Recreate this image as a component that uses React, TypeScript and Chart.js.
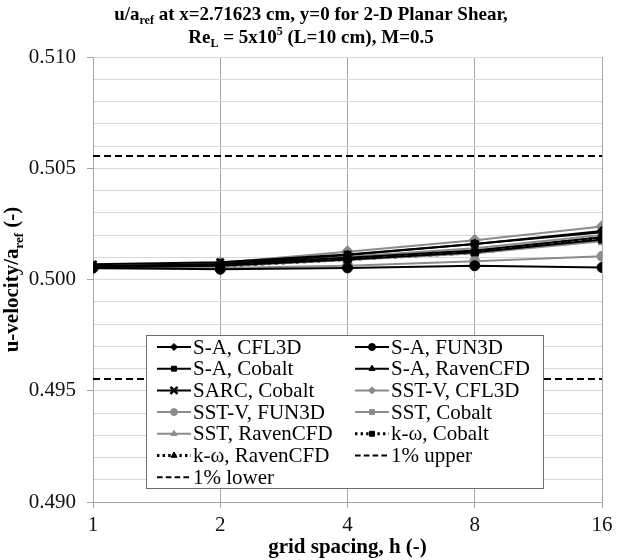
import React, { useEffect, useRef } from 'react';
import { Chart, registerables } from 'chart.js';
import { drawPoint } from 'chart.js/helpers';

Chart.register(...registerables);

// ---------- data ----------
const gridSpacing = [1, 2, 4, 8, 16];
const xTickLabels = ['1', '2', '4', '8', '16'];

const saCfl3d = [0.50058, 0.50068, 0.5011, 0.5016, 0.50218];
const saFun3d = [0.50052, 0.50046, 0.50052, 0.50062, 0.50054];
const saCobalt = [0.50055, 0.50062, 0.5009, 0.50122, 0.5018];
const saRaven = [0.5006, 0.50068, 0.50098, 0.5013, 0.5019];
const sarcCobalt = [0.50068, 0.50078, 0.50112, 0.5016, 0.50212];
const sstvCfl3d = [0.5006, 0.50075, 0.50125, 0.50176, 0.50238];
const sstvFun3d = [0.5005, 0.50052, 0.50062, 0.50082, 0.50104];
const sstCobalt = [0.50055, 0.5006, 0.50088, 0.50118, 0.50172];
const sstRaven = [0.5006, 0.5007, 0.50102, 0.5014, 0.502];
const kwCobalt = [0.50055, 0.5006, 0.5009, 0.5012, 0.50182];
const kwRaven = [0.50055, 0.50062, 0.50092, 0.50125, 0.50188];
const upperBound = 0.50555;
const lowerBound = 0.49553;

const yMin = 0.49;
const yMax = 0.51;
const yStep = 0.001;

const BLACK = '#000000';
const GRAY = '#8c8c8c';
const SERIF = '"Liberation Serif", "Times New Roman", serif';

type Seg = { t: string; sub?: boolean; sup?: boolean };

function series(label: string, values: number[], color: string, pointStyle: any, radius: number, dash: number[] = [], width = 2) {
  return {
    label,
    data: gridSpacing.map((x, i) => ({ x, y: values[i] })),
    borderColor: color,
    backgroundColor: color,
    pointBackgroundColor: color,
    pointBorderColor: color,
    pointStyle,
    pointRadius: radius,
    pointBorderWidth: pointStyle === 'crossRot' ? 2.5 : 1,
    borderWidth: width,
    borderDash: dash,
    fill: false,
    tension: 0,
  };
}

function drawRich(ctx: CanvasRenderingContext2D, segs: Seg[], size: number, cx: number, cy: number) {
  const base = `bold ${size}px ${SERIF}`;
  const small = `bold ${Math.round(size * 0.62)}px ${SERIF}`;
  let total = 0;
  const widths = segs.map((s) => {
    ctx.font = s.sub || s.sup ? small : base;
    const w = ctx.measureText(s.t).width;
    total += w;
    return w;
  });
  let x = cx - total / 2;
  ctx.textBaseline = 'middle';
  ctx.textAlign = 'left';
  segs.forEach((s, i) => {
    ctx.font = s.sub || s.sup ? small : base;
    const dy = s.sub ? size * 0.32 : s.sup ? -size * 0.3 : 0;
    ctx.fillText(s.t, x, cy + dy);
    x += widths[i];
  });
}

const titleLine1: Seg[] = [
  { t: 'u/a' },
  { t: 'ref', sub: true },
  { t: ' at x=2.71623 cm, y=0 for 2-D Planar Shear,' },
];
const titleLine2: Seg[] = [
  { t: 'Re' },
  { t: 'L', sub: true },
  { t: ' = 5x10' },
  { t: '5', sup: true },
  { t: ' (L=10 cm), M=0.5' },
];
const yTitle: Seg[] = [{ t: 'u-velocity/a' }, { t: 'ref', sub: true }, { t: ' (-)' }];

const textPlugin = {
  id: 'richText',
  afterDraw(chart: any) {
    const ctx = chart.ctx as CanvasRenderingContext2D;
    ctx.save();
    ctx.fillStyle = '#000';
    drawRich(ctx, titleLine1, 19, 311, 15);
    drawRich(ctx, titleLine2, 19, 311, 38);
    const ca = chart.chartArea;
    ctx.translate(13, (ca.top + ca.bottom) / 2);
    ctx.rotate(-Math.PI / 2);
    drawRich(ctx, yTitle, 21, 0, 0);
    ctx.restore();
  },
};

const legendPlugin = {
  id: 'boxLegend',
  afterDraw(chart: any) {
    const ctx = chart.ctx as CanvasRenderingContext2D;
    const left = 146, top = 335, w = 397, h = 153;
    const rowH = 21.7, colW = 198;
    ctx.save();
    ctx.fillStyle = '#ffffff';
    ctx.fillRect(left, top, w, h);
    ctx.strokeStyle = '#6e6e6e';
    ctx.lineWidth = 1;
    ctx.strokeRect(left + 0.5, top + 0.5, w, h);
    chart.data.datasets.forEach((ds: any, i: number) => {
      const col = i % 2;
      const row = Math.floor(i / 2);
      const x0 = left + 11 + col * colW;
      const y = top + 12 + row * rowH;
      ctx.save();
      ctx.strokeStyle = ds.borderColor;
      ctx.lineWidth = ds.borderWidth;
      ctx.setLineDash(ds.borderDash && ds.borderDash.length ? ds.borderDash.map((d: number) => d * 0.8) : []);
      ctx.beginPath();
      ctx.moveTo(x0, y);
      ctx.lineTo(x0 + 34, y);
      ctx.stroke();
      ctx.setLineDash([]);
      if (ds.pointRadius > 0) {
        ctx.fillStyle = ds.pointBackgroundColor;
        ctx.strokeStyle = ds.pointBorderColor;
        ctx.lineWidth = ds.pointStyle === 'crossRot' ? 2.5 : 1;
        drawPoint(ctx, { pointStyle: ds.pointStyle, radius: ds.pointStyle === 'crossRot' ? 5 : 3.5, rotation: 0, borderWidth: ctx.lineWidth } as any, x0 + 17, y);
      }
      ctx.restore();
      ctx.fillStyle = '#000';
      ctx.font = `21px ${SERIF}`;
      ctx.textBaseline = 'middle';
      ctx.textAlign = 'left';
      ctx.fillText(ds.label, x0 + 36, y + 1);
    });
    ctx.restore();
  },
};

export default function App() {
  const ref = useRef<HTMLCanvasElement | null>(null);
  useEffect(() => {
    if (!ref.current) return;
    const datasets: any[] = [
      series('S-A, CFL3D', saCfl3d, BLACK, 'rectRot', 5),
      series('S-A, FUN3D', saFun3d, BLACK, 'circle', 5),
      series('S-A, Cobalt', saCobalt, BLACK, 'rect', 5),
      series('S-A, RavenCFD', saRaven, BLACK, 'triangle', 5),
      series('SARC, Cobalt', sarcCobalt, BLACK, 'crossRot', 5),
      series('SST-V, CFL3D', sstvCfl3d, GRAY, 'rectRot', 6),
      series('SST-V, FUN3D', sstvFun3d, GRAY, 'circle', 5),
      series('SST, Cobalt', sstCobalt, GRAY, 'rect', 5),
      series('SST, RavenCFD', sstRaven, GRAY, 'triangle', 5),
      series('k-\u03c9, Cobalt', kwCobalt, BLACK, 'rect', 5, [3, 4], 3),
      series('k-\u03c9, RavenCFD', kwRaven, BLACK, 'triangle', 5, [3, 4], 3),
      {
        label: '1% upper',
        data: gridSpacing.map((x) => ({ x, y: upperBound })),
        borderColor: BLACK,
        borderWidth: 2,
        borderDash: [7, 4],
        pointRadius: 0,
        fill: false,
      },
      {
        label: '1% lower',
        data: gridSpacing.map((x) => ({ x, y: lowerBound })),
        borderColor: BLACK,
        borderWidth: 2,
        borderDash: [7, 4],
        pointRadius: 0,
        fill: false,
      },
    ];
    const chart = new Chart(ref.current, {
      type: 'line',
      data: { datasets },
      plugins: [textPlugin, legendPlugin],
      options: {
        animation: false,
        responsive: false,
        devicePixelRatio: 1,
        layout: { padding: { top: 57, right: 17, left: 0, bottom: 0 } },
        plugins: {
          legend: { display: false },
          title: { display: false },
          tooltip: { enabled: false },
        },
        scales: {
          x: {
            type: 'logarithmic',
            min: 1,
            max: 16,
            afterBuildTicks: (scale: any) => {
              scale.ticks = gridSpacing.map((v) => ({ value: v }));
            },
            afterFit: (scale: any) => {
              scale.height = 58;
            },
            ticks: {
              autoSkip: false,
              maxRotation: 0,
              padding: 5,
              color: '#111',
              font: { family: SERIF, size: 21 },
              callback: (v: any) => {
                const i = gridSpacing.indexOf(Number(v));
                return i >= 0 ? xTickLabels[i] : '';
              },
            },
            grid: { color: '#a6a6a6', tickColor: '#a6a6a6', tickLength: 6, lineWidth: 1 },
            border: { color: '#a6a6a6' },
            title: {
              display: true,
              text: 'grid spacing, h (-)',
              color: '#000',
              font: { family: SERIF, size: 21, weight: 'bold' },
              padding: { top: 0, bottom: 0 },
            },
          },
          y: {
            type: 'linear',
            min: yMin,
            max: yMax,
            afterFit: (scale: any) => {
              scale.width = 93;
            },
            ticks: {
              stepSize: yStep,
              maxTicksLimit: 100,
              autoSkip: false,
              padding: 11,
              color: '#111',
              font: { family: SERIF, size: 21 },
              callback: (v: any) => (Math.round(Number(v) * 1000) % 5 === 0 ? Number(v).toFixed(3) : ''),
            },
            grid: {
              color: '#d9d9d9',
              tickLength: 6,
              tickColor: (c: any) =>
                c.tick && Math.round(c.tick.value * 1000) % 5 === 0 ? '#a6a6a6' : 'rgba(0,0,0,0)',
            },
            border: { color: '#a6a6a6' },
          },
        },
      } as any,
    });
    return () => chart.destroy();
  }, []);
  return (
    <div style={{ position: 'fixed', left: 0, top: 0, width: 619, height: 560, background: '#fff' }}>
      <canvas ref={ref} width={619} height={560} style={{ width: 619, height: 560, display: 'block' }} />
    </div>
  );
}
